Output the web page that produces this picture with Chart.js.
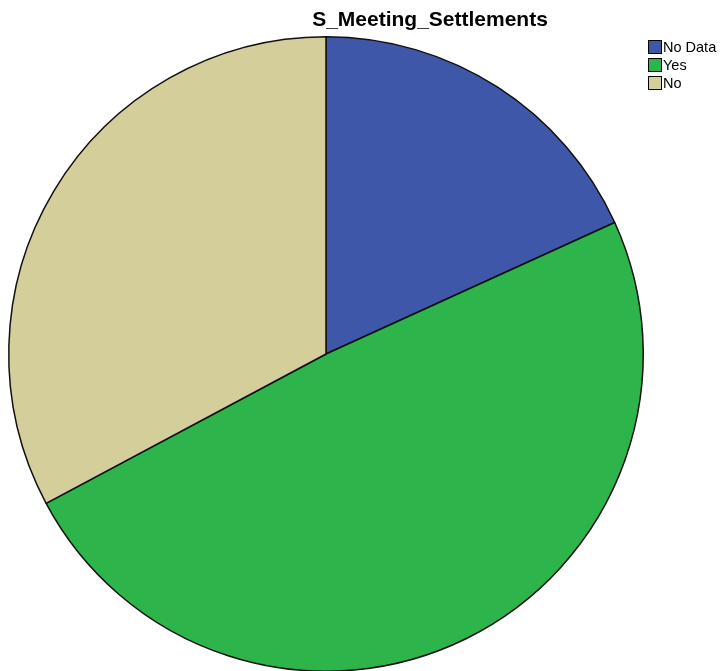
<!DOCTYPE html>
<html>
<head>
<meta charset="utf-8">
<title>S_Meeting_Settlements</title>
<script src="https://cdn.jsdelivr.net/npm/chart.js@4.4.0/dist/chart.umd.min.js"></script>
<style>
  html, body { margin: 0; padding: 0; background: #fff; overflow: hidden; }
  #wrap { position: relative; width: 721px; height: 680px; }
</style>
</head>
<body>
<div id="wrap"><canvas id="pie"></canvas></div>
<script>
// slice categories and shares (percent)
var categories = ['No Data', 'Yes', 'No'];
var shares = [18.2, 49.0, 32.8];
var sliceColors = ['#3E57A9', '#2DB44A', '#D4CE9B'];
var chartTitle = 'S_Meeting_Settlements';

// title + boxed legend in the top right corner
var titleLegend = {
  id: 'titleLegend',
  afterDraw: function(chart) {
    var ctx = chart.ctx;
    ctx.save();
    ctx.fillStyle = '#000';
    ctx.font = 'bold 21px "Liberation Sans", Arial, sans-serif';
    ctx.textAlign = 'center';
    ctx.textBaseline = 'middle';
    ctx.fillText(chartTitle, 430, 20);

    ctx.font = '14.5px "Liberation Sans", Arial, sans-serif';
    ctx.textAlign = 'left';
    var labels = chart.data.labels;
    var colors = chart.data.datasets[0].backgroundColor;
    for (var i = 0; i < labels.length; i++) {
      var y = 47 + i * 18;
      ctx.fillStyle = colors[i];
      ctx.fillRect(649, y - 6, 12, 12);
      ctx.strokeStyle = '#000';
      ctx.lineWidth = 1;
      ctx.strokeRect(648.5, y - 6.5, 13, 13);
      ctx.fillStyle = '#000';
      ctx.fillText(labels[i], 663, y + 1);
    }
    ctx.restore();
  }
};

new Chart(document.getElementById('pie'), {
  type: 'pie',
  data: {
    labels: categories,
    datasets: [{
      data: shares,
      backgroundColor: sliceColors,
      borderColor: '#111',
      borderWidth: 1.5
    }]
  },
  options: {
    responsive: true,
    maintainAspectRatio: false,
    animation: false,
    layout: { padding: { left: 8, right: 77, top: 36, bottom: 8 } },
    plugins: {
      legend: { display: false },
      title: { display: false },
      tooltip: { enabled: false }
    }
  },
  plugins: [titleLegend]
});
</script>
</body>
</html>
